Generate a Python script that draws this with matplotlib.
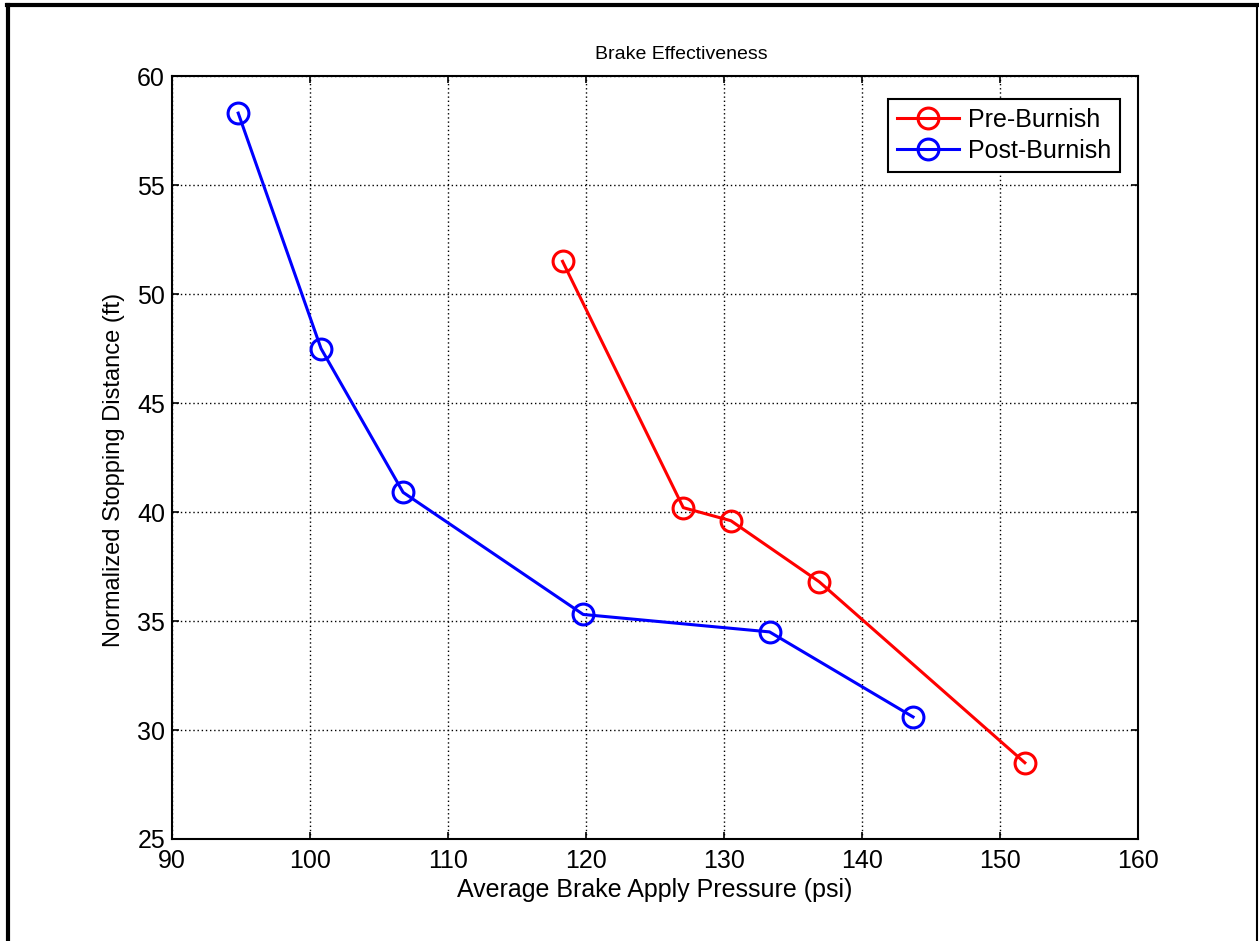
import matplotlib
matplotlib.use("Agg")
import matplotlib.pyplot as plt
from matplotlib.lines import Line2D

plt.rcParams["font.family"] = ["Liberation Sans", "DejaVu Sans"]

pre_pressure = [118.3, 127.05, 130.5, 136.9, 151.8]
pre_distance = [51.5, 40.2, 39.6, 36.8, 28.5]

post_pressure = [94.8, 100.8, 106.75, 119.8, 133.3, 143.7]
post_distance = [58.3, 47.5, 40.9, 35.3, 34.5, 30.6]

x_ticks = [90, 100, 110, 120, 130, 140, 150, 160]
y_ticks = [25, 30, 35, 40, 45, 50, 55, 60]


def main():
    fig = plt.figure(figsize=(12.59, 9.41), dpi=100)
    ax = fig.add_axes([0.1366, 0.1084, 0.7673, 0.8108])

    style = dict(marker="o", markersize=15, markerfacecolor="none",
                 markeredgewidth=2.2, linewidth=2.2)
    ax.plot(pre_pressure, pre_distance, color="red", label="Pre-Burnish", **style)
    ax.plot(post_pressure, post_distance, color="blue", label="Post-Burnish", **style)

    ax.set_xlim(90, 160)
    ax.set_ylim(25, 60)
    ax.set_xticks(x_ticks)
    ax.set_yticks(y_ticks)
    ax.grid(True, color="black", linestyle=(0, (1.0, 2.0)), linewidth=1.0)
    ax.tick_params(direction="in", length=5, width=1.2, top=True, right=True,
                   labelsize=18)
    ax.tick_params(axis="x", pad=7)
    ax.tick_params(axis="y", pad=5)
    for s in ax.spines.values():
        s.set_linewidth(1.5)

    ax.set_xlabel("Average Brake Apply Pressure (psi)", fontsize=18, labelpad=4)
    ax.set_ylabel("Normalized Stopping Distance (ft)", fontsize=17)
    ax.yaxis.set_label_coords(-0.049, 0.484)
    ax.set_title("Brake Effectiveness", fontsize=14, pad=12, x=0.527)

    leg = ax.legend(loc="upper right", bbox_to_anchor=(0.9814, 0.9699),
                    borderaxespad=0, fontsize=18, fancybox=False, framealpha=1,
                    edgecolor="black", handlelength=2.5, handletextpad=0.35,
                    borderpad=0.35, labelspacing=0.3)
    leg.get_frame().set_linewidth(1.5)

    # outer frame like the exported figure window
    fig.add_artist(Line2D([0.0065, 0.0065], [0, 0.995], transform=fig.transFigure,
                          color="black", linewidth=3))
    fig.add_artist(Line2D([0.0055, 0.999], [0.995, 0.995], transform=fig.transFigure,
                          color="black", linewidth=3))
    fig.add_artist(Line2D([0.9988, 0.9988], [0, 0.995], transform=fig.transFigure,
                          color="black", linewidth=1.5))

    fig.savefig("out.png", dpi=100)


if __name__ == "__main__":
    main()
